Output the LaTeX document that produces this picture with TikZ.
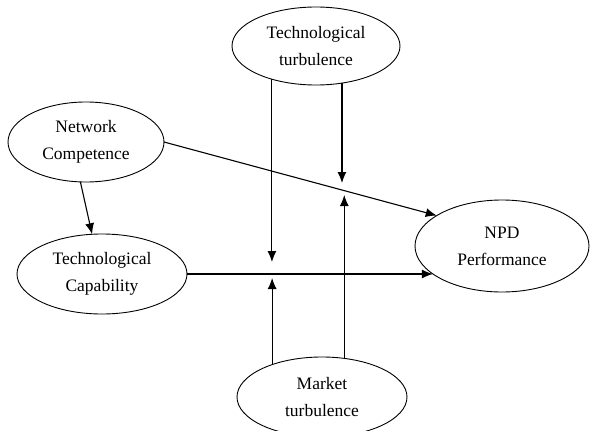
\documentclass[tikz,border=0pt]{standalone}
\usepackage{fontspec}
\setmainfont{Liberation Serif}
\usetikzlibrary{arrows.meta,shapes.geometric}

\begin{document}
\begin{tikzpicture}[x=1pt, y=-1pt,
    every node/.style={font=\fontsize{17.5}{27}\selectfont, align=center},
    construct/.style={ellipse, draw, line width=0.9pt, inner sep=0pt, outer sep=0pt},
    link/.style={-{Latex[length=11pt,width=9pt]}, line width=1.1pt}]
    \useasboundingbox (0,0) rectangle (590,431);

    % Constructs
    \node[construct, minimum width=168, minimum height=78] (tt) at (316,46) {Technological\\turbulence};
    \node[construct, minimum width=156, minimum height=80] (nc) at (86,142) {Network\\Competence};
    \node[construct, minimum width=170, minimum height=80] (tc) at (102,274) {Technological\\Capability};
    \node[construct, minimum width=174, minimum height=92] (npd) at (502,246) {NPD\\Performance};
    \node[construct, minimum width=170, minimum height=80] (mt) at (322,397) {Market\\turbulence};

    % Free ends of the moderating arrows
    \coordinate (ttl) at (272,262);
    \coordinate (ttr) at (342,183);
    \coordinate (mtl) at (272,278);
    \coordinate (mtr) at (344,195);

    % Main effects
    \draw[link] (nc.262) -- (tc.104);
    \draw[link] (nc.east) -- (npd.155);
    \draw[link] (tc.east) -- (npd.202 |- tc.east);

    % Moderators
    \draw[link] (tt.217) -- (tt.217 |- ttl);
    \draw[link] (tt.305) -- (tt.305 |- ttr);
    \draw[link] (mt.147) -- (mt.147 |- mtl);
    \draw[link] (mt.60) -- (mt.60 |- mtr);
\end{tikzpicture}
\end{document}
